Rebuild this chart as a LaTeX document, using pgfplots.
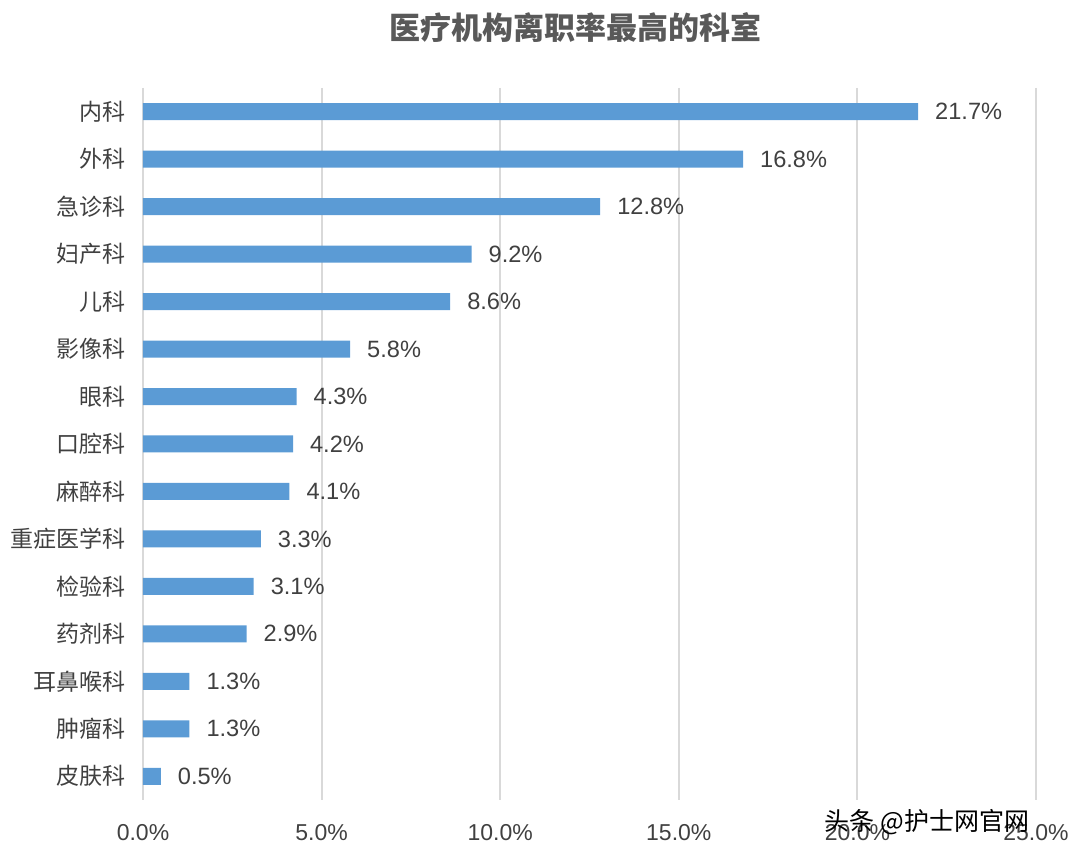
\documentclass[border=0pt]{standalone}
\usepackage{pgfplots}
\pgfplotsset{compat=1.18}
\usepackage{fontspec}
\setmainfont{Liberation Sans}
\newfontfamily\cjk{Noto Sans CJK SC}
\definecolor{barblue}{HTML}{5B9BD5}
\definecolor{txt}{HTML}{404040}
\definecolor{ttl}{HTML}{595959}
\definecolor{gridc}{HTML}{D9D9D9}
\begin{document}
\begin{tikzpicture}
\useasboundingbox (-71.5pt,-27pt) rectangle (468.5pt,400pt);
\begin{axis}[
  at={(0,0)}, anchor=south west,
  scale only axis, width=446.5pt, height=356pt,
  xbar, bar width=8.5pt,
  xmin=0, xmax=25, ymin=-0.5, ymax=14.5,
  y dir=reverse,
  axis line style={draw=none},
  xtick={0,5,10,15,20,25},
  xticklabels={0.0\%,5.0\%,10.0\%,15.0\%,20.0\%,25.0\%},
  ytick={0,...,14},
  yticklabels={内科,外科,急诊科,妇产科,儿科,影像科,眼科,口腔科,麻醉科,重症医学科,检验科,药剂科,耳鼻喉科,肿瘤科,皮肤科},
  yticklabel style={font=\cjk\fontsize{11.5}{12}\selectfont, text=txt, xshift=-5pt},
  xticklabel style={font=\fontsize{11.5}{12}\selectfont, text=txt, yshift=-8.5pt},
  major tick length=0pt,
  xmajorgrids, major grid style={gridc, line width=1pt},
  nodes near coords={\pgfmathprintnumber[fixed,fixed zerofill,precision=1]{\pgfplotspointmeta}\%},
  nodes near coords style={font=\fontsize{11.8}{12}\selectfont, text=txt, anchor=west, xshift=5pt},
  /pgf/number format/assume math mode=true,
]
\addplot[fill=barblue, draw=none] coordinates {
(21.7,0) (16.8,1) (12.8,2) (9.2,3) (8.6,4) (5.8,5) (4.3,6) (4.2,7) (4.1,8) (3.3,9) (3.1,10) (2.9,11) (1.3,12) (1.3,13) (0.5,14)
};
\end{axis}
\node[font=\cjk\bfseries\fontsize{15.5}{17}\selectfont, text=ttl] at (216pt,386pt) {医疗机构离职率最高的科室};
\node[font=\cjk\fontsize{12.5}{14}\selectfont, text=black] at (392pt,-11pt) {头条 @护士网官网};
\end{tikzpicture}
\end{document}
